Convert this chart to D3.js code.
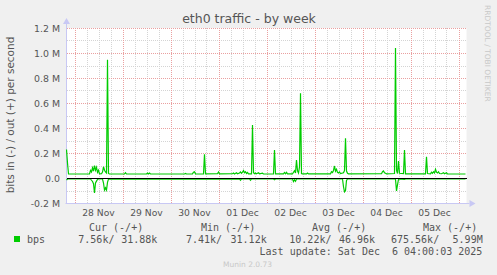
<!DOCTYPE html>
<html>
<head>
<meta charset="utf-8">
<script src="https://cdn.jsdelivr.net/npm/d3@7"></script>
<style>
  body { margin: 0; background: #f0f0f0; }
  svg { display: block; }
  text { white-space: pre; }
</style>
</head>
<body>
<script>
// eth0 traffic, munin week view. values in kbit/s, time in hours after start
var startTime = new Date(2025, 10, 27, 20, 0, 0);
var endTime = new Date(2025, 11, 6, 4, 0, 0);

var yTicks = [-200, 0, 200, 400, 600, 800, 1000, 1200];
var yTickLabels = ["-0.2 M", "0.0", "0.2 M", "0.4 M", "0.6 M", "0.8 M", "1.0 M", "1.2 M"];

// out (+)
var outSeries = [[0,228],[0.5,120],[1,33],[11.5,32],[12,60],[12.5,48],[13,82],[13.5,55],[14,100],[14.5,62],
  [15,86],[15.5,45],[16,62],[16.5,33],[17.5,34],[18,48],[18.5,90],[19,62],[19.5,48],[20,40],[20.5,945],
  [21,36],[21.5,32],[29,33],[29.5,42],[30,32],[40,32],[40.5,40],[41,32],[41.5,40],[42,32],[59,32],
  [59.5,37],[60,32],[63,33],[63.5,46],[64,50],[64.5,33],[68.5,32],[69,190],[69.5,33],[75.5,34],[76,48],
  [76.5,33],[83,34],[83.5,40],[84,32],[85,42],[85.5,34],[86.5,40],[87,48],[87.5,38],[88,46],[88.5,60],
  [89,42],[89.5,50],[90,36],[90.5,44],[91,33],[92.5,33],[93,424],[93.5,42],[94,34],[94.5,40],[95,33],
  [96,42],[96.5,34],[98,38],[98.5,32],[103.5,33],[104,224],[104.5,33],[108.5,33],[109,44],[109.5,34],
  [110,45],[110.5,33],[113,33],[113.5,46],[114,58],[114.5,40],[115,144],[115.5,58],[116,40],[116.5,88],
  [117,677],[117.5,36],[118,33],[120,33],[120.5,40],[121,33],[132,33],[132.5,50],[133,44],[133.5,60],
  [134,96],[134.5,55],[135,70],[135.5,45],[136,40],[136.5,48],[137,36],[138.5,42],[139,60],[139.5,318],
  [140,55],[140.5,38],[141,33],[157.5,34],[158,50],[158.5,56],[159,42],[159.5,38],[160,33],[164,36],
  [164.5,1040],[165,60],[165.5,36],[166,136],[166.5,38],[168.5,35],[169,224],[169.5,33],[179.5,33],
  [180,170],[180.5,36],[182,33],[182.5,46],[183,38],[183.5,50],[184,40],[184.5,70],[185,46],[185.5,40],
  [186,50],[186.5,36],[187.5,34],[188.5,42],[189,34],[190,42],[190.5,33],[199.5,32]];

// in (-), drawn below zero
var inSeries = [[0,16],[0.5,8],[12,8],[12.5,18],[13,28],[13.5,45],[14,120],[14.5,40],[15,25],[15.5,12],
  [16,8],[18,8],[18.5,40],[19,96],[19.5,78],[20,96],[20.5,35],[21,9],[86.5,8],[87,18],[87.5,8],[91.5,8],
  [92,18],[92.5,8],[103.5,8],[104,14],[104.5,8],[113,8],[113.5,28],[114,14],[114.5,26],[115,8],
  [138,8],[138.5,70],[139,110],[139.5,100],[140,20],[140.5,8],[164.5,8],[165,104],[165.5,55],[166,10],
  [166.5,8],[169,12],[169.5,8],[199.5,8]];

var legendHeaders = ["Cur (-/+)", "Min (-/+)", "Avg (-/+)", "Max (-/+)"];
var legendIn = ["7.56k/", "7.41k/", "10.22k/", "675.56k/"];
var legendOut = ["31.88k", "31.12k", "46.96k", "5.99M"];

var width = 497, height = 275;
var pLeft = 66.5, pRight = 466.5, pTop = 28, pBottom = 203;

var svg = d3.select("body").append("svg")
    .attr("width", width)
    .attr("height", height)

svg.append("rect")
    .attr("width", width)
    .attr("height", height)
    .style("fill", "#f0f0f0")

var x = d3.scaleTime().domain([startTime, endTime]).range([pLeft, pRight]);
var y = d3.scaleLinear().domain([-200, 1200]).range([pBottom, pTop]);

function t(h){ return new Date(startTime.getTime() + h*3600000); }

svg.append("rect")
    .attr("x", pLeft)
    .attr("y", pTop)
    .attr("width", pRight - pLeft)
    .attr("height", pBottom - pTop)
    .style("fill", "#fff")

var grid = svg.append("g").attr("shape-rendering", "crispEdges");

// minor grid
y.ticks(14).forEach(function(v){
    if (yTicks.indexOf(v) >= 0) return;
    grid.append("line")
        .attr("x1", pLeft).attr("x2", pRight)
        .attr("y1", Math.round(y(v)) + 0.5).attr("y2", Math.round(y(v)) + 0.5)
        .style("stroke", "#d4d4d4").style("stroke-dasharray", "1,1")
});
d3.timeHour.every(6).range(startTime, endTime).forEach(function(d){
    if (d.getHours() == 0) return;
    grid.append("line")
        .attr("x1", Math.round(x(d)) + 0.5).attr("x2", Math.round(x(d)) + 0.5)
        .attr("y1", pTop).attr("y2", pBottom)
        .style("stroke", "#d4d4d4").style("stroke-dasharray", "1,1")
});
// major grid
yTicks.forEach(function(v){
    grid.append("line")
        .attr("x1", pLeft).attr("x2", pRight)
        .attr("y1", Math.round(y(v)) + 0.5).attr("y2", Math.round(y(v)) + 0.5)
        .style("stroke", "#eaa0a0").style("stroke-dasharray", "1,1")
});
d3.timeDay.range(startTime, endTime).forEach(function(d){
    grid.append("line")
        .attr("x1", Math.round(x(d)) + 0.5).attr("x2", Math.round(x(d)) + 0.5)
        .attr("y1", pTop).attr("y2", pBottom)
        .style("stroke", "#eaa0a0").style("stroke-dasharray", "1,1")
});

// axes
var axisCol = "#c8c8f4";
svg.append("line")
    .attr("x1", pLeft).attr("x2", pLeft).attr("y1", pBottom + 1).attr("y2", pTop - 4)
    .style("stroke", axisCol)
svg.append("line")
    .attr("x1", pLeft - 1).attr("x2", pRight + 3).attr("y1", pBottom + 0.5).attr("y2", pBottom + 0.5)
    .style("stroke", axisCol)
svg.append("path")
    .attr("d", "M" + (pLeft - 3.5) + "," + (pTop - 4) + "L" + (pLeft + 3.5) + "," + (pTop - 4) + "L" + pLeft + "," + (pTop - 10) + "Z")
    .style("fill", axisCol)
svg.append("path")
    .attr("d", "M" + (pRight + 3) + "," + (pBottom - 3) + "L" + (pRight + 3) + "," + (pBottom + 4) + "L" + (pRight + 9) + "," + (pBottom + 0.5) + "Z")
    .style("fill", axisCol)

var textCol = "#555";

// y labels
svg.selectAll(".ylab").data(yTicks).enter().append("text")
    .attr("x", 60)
    .attr("y", function(d){ return y(d) + 3.5; })
    .attr("text-anchor", "end")
    .style("font-family", "DejaVu Sans")
    .style("font-size", "9.4px")
    .style("fill", textCol)
    .text(function(d, i){ return yTickLabels[i]; })

// x labels at noon
var noons = d3.timeDay.range(startTime, endTime).map(function(d){ return d3.timeHour.offset(d, 12); })
    .filter(function(d){ return d < endTime; });
svg.selectAll(".xlab").data(noons).enter().append("text")
    .attr("x", function(d){ return x(d); })
    .attr("y", 216)
    .attr("text-anchor", "middle")
    .style("font-family", "DejaVu Sans")
    .style("font-size", "9.2px")
    .style("fill", textCol)
    .text(d3.timeFormat("%d %b"))

// data lines
var lineOut = d3.line()
    .x(function(d){ return x(t(d[0])); })
    .y(function(d){ return y(d[1]); });
var lineIn = d3.line()
    .x(function(d){ return x(t(d[0])); })
    .y(function(d){ return y(-d[1]); });

svg.append("path")
    .attr("d", lineIn(inSeries))
    .style("fill", "none").style("stroke", "#00cc00").style("stroke-width", 1.2)
svg.append("path")
    .attr("d", lineOut(outSeries))
    .style("fill", "none").style("stroke", "#00cc00").style("stroke-width", 1.2)

// zero rule
svg.append("line")
    .attr("x1", pLeft).attr("x2", pRight)
    .attr("y1", Math.round(y(0)) + 0.5).attr("y2", Math.round(y(0)) + 0.5)
    .attr("shape-rendering", "crispEdges")
    .style("stroke", "#000")

// title
svg.append("text")
    .attr("x", 249).attr("y", 23)
    .attr("text-anchor", "middle")
    .style("font-family", "DejaVu Sans").style("font-size", "12.5px")
    .style("fill", textCol)
    .text("eth0 traffic - by week")

svg.append("text")
    .attr("transform", "translate(14,115) rotate(-90)")
    .attr("text-anchor", "middle")
    .style("font-family", "DejaVu Sans").style("font-size", "10.5px")
    .style("fill", textCol)
    .text("bits in (-) / out (+) per second")

svg.append("text")
    .attr("transform", "translate(485,5) rotate(90)")
    .style("font-family", "DejaVu Sans").style("font-size", "7.5px")
    .style("fill", "#c8c8c8")
    .text("RRDTOOL / TOBI OETIKER")

// legend
var mono = "DejaVu Sans Mono";
var headX = [89, 201, 312, 423];
var inX = [78.3, 186, 289.3, 391];
var outX = [157.3, 266.7, 375, 482.7];

svg.append("rect")
    .attr("x", 14).attr("y", 236).attr("width", 6).attr("height", 6)
    .style("fill", "#00cc00")
svg.append("text")
    .attr("x", 27).attr("y", 243)
    .style("font-family", mono).style("font-size", "10px").style("fill", textCol)
    .text("bps")

legendHeaders.forEach(function(h, i){
    svg.append("text")
        .attr("x", headX[i]).attr("y", 231)
        .style("font-family", mono).style("font-size", "10px").style("fill", textCol)
        .text(h)
    svg.append("text")
        .attr("x", inX[i]).attr("y", 243)
        .style("font-family", mono).style("font-size", "10px").style("fill", textCol)
        .text(legendIn[i])
    svg.append("text")
        .attr("x", outX[i]).attr("y", 243)
        .attr("text-anchor", "end")
        .style("font-family", mono).style("font-size", "10px").style("fill", textCol)
        .text(legendOut[i])
});

svg.append("text")
    .attr("x", 482.3).attr("y", 255)
    .attr("text-anchor", "end")
    .style("font-family", mono).style("font-size", "10px").style("fill", textCol)
    .text("Last update: Sat Dec  6 04:00:03 2025")

svg.append("text")
    .attr("x", 247.5).attr("y", 267)
    .attr("text-anchor", "middle")
    .style("font-family", "DejaVu Sans").style("font-size", "7.5px")
    .style("fill", "#c8c8c8")
    .text("Munin 2.0.73")
</script>
</body>
</html>
